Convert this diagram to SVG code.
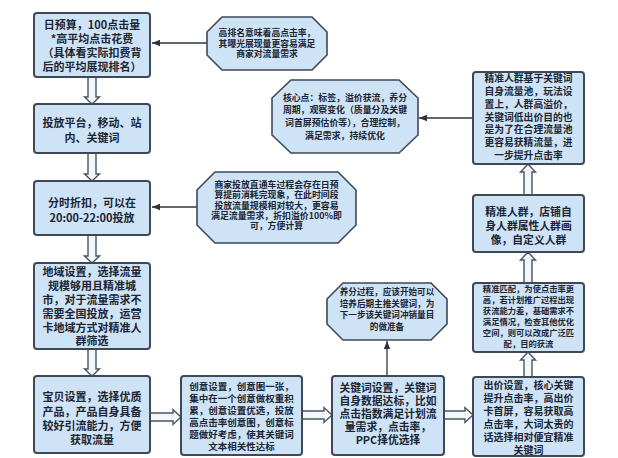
<svg xmlns="http://www.w3.org/2000/svg" width="618" height="458" viewBox="0 0 618 458">
<defs>
<marker id="ah" viewBox="0 0 10 10" refX="10" refY="5" markerWidth="8" markerHeight="8" markerUnits="userSpaceOnUse" orient="auto">
<path d="M0,1 L10,5 L0,9 Z" fill="#2b3440"/>
</marker>
<style>
.box{fill:#cfe3f6;stroke:#3e4856;stroke-width:2}
.oct{fill:#cfe3f6;stroke:#3e4856;stroke-width:1.6}
text{font-family:"Noto Sans CJK SC","Liberation Sans",sans-serif;fill:#1c2633;text-anchor:middle;font-weight:bold}
.ha{fill:#f4f7fa;stroke:#4a5462;stroke-width:1.4}
.ln{fill:none;stroke:#2b3440;stroke-width:1.3;marker-end:url(#ah)}
</style>
</defs>
<rect width="618" height="458" fill="#ffffff"/>

<g id="connectors">
<path class="ha" d="M88,77 V97 H84.5 L92,104 L99.5,97 H96 V77 Z"/>
<path class="ha" d="M88,153 V174 H84.5 L92,181 L99.5,174 H96 V153 Z"/>
<path class="ha" d="M88,235 V256 H84.5 L92,263 L99.5,256 H96 V235 Z"/>
<path class="ha" d="M88,349 V369 H84.5 L92,376 L99.5,369 H96 V349 Z"/>
<path class="ha" d="M150,413 H173 V409.5 L181,417 L173,424.5 V421 H150 Z"/>
<path class="ha" d="M302,411 H324 V407.5 L332,415 L324,422.5 V419 H302 Z"/>
<path class="ha" d="M444,411 H465 V407.5 L473,415 L465,422.5 V419 H444 Z"/>
<path class="ha" d="M524,377 V360 H520.5 L528,352 L535.5,360 H532 V377 Z"/>
<path class="ha" d="M524,283 V260 H520.5 L528,252 L535.5,260 H532 V283 Z"/>
<path class="ha" d="M524,195 V172 H520.5 L528,164 L535.5,172 H532 V195 Z"/>
<path class="ln" d="M207,43 H152"/>
<path class="ln" d="M197,207 H152"/>
<path class="ln" d="M387,376 V341"/>
<path class="ln" d="M473,118 H419"/>
</g>

<g id="n1">
<rect class="box" x="34" y="13" width="116" height="64" rx="3"/>
<text font-size="11"><tspan x="92" y="29">日预算，100点击量</tspan><tspan x="92" y="43">*高平均点击花费</tspan><tspan x="92" y="57">（具体看实际扣费背</tspan><tspan x="92" y="71">后的平均展现排名）</tspan></text>
</g>
<g id="o1">
<polygon class="oct" points="222,17 312,17 327,32 327,55 312,70 222,70 207,55 207,32"/>
<text font-size="8.8"><tspan x="267" y="36">高排名意味着高点击率，</tspan><tspan x="267" y="46.5">其曝光展现量更容易满足</tspan><tspan x="267" y="57">商家对流量需求</tspan></text>
</g>
<g id="n2">
<rect class="box" x="34" y="104" width="116" height="49" rx="3"/>
<text font-size="11"><tspan x="92" y="127">投放平台，移动、站</tspan><tspan x="92" y="142">内、关键词</tspan></text>
</g>
<g id="n3">
<rect class="box" x="34" y="181" width="116" height="54" rx="3"/>
<text font-size="11"><tspan x="92" y="207">分时折扣，可以在</tspan><tspan x="92" y="221.5">20:00-22:00投放</tspan></text>
</g>
<g id="o2">
<polygon class="oct" points="215,172 338,172 356,190 356,225 338,243 215,243 197,225 197,190"/>
<text font-size="8.9"><tspan x="276.5" y="188">商家投放直通车过程会存在日预</tspan><tspan x="276.5" y="198.3">算提前消耗完现象，在此时间段</tspan><tspan x="276.5" y="208.6">投放流量规模相对较大，更容易</tspan><tspan x="276.5" y="218.9">满足流量需求，折扣溢价100%即</tspan><tspan x="276.5" y="229.2">可，方便计算</tspan></text>
</g>
<g id="n4">
<rect class="box" x="34" y="263" width="116" height="86" rx="3"/>
<text font-size="11"><tspan x="92" y="276">地域设置，选择流量</tspan><tspan x="92" y="290">规模够用且精准城</tspan><tspan x="92" y="304">市，对于流量需求不</tspan><tspan x="92" y="318">需要全国投放，运营</tspan><tspan x="92" y="331.5">卡地域方式对精准人</tspan><tspan x="92" y="345">群筛选</tspan></text>
</g>
<g id="n5">
<rect class="box" x="34" y="376" width="116" height="77" rx="3"/>
<text font-size="11"><tspan x="92" y="401">宝贝设置，选择优质</tspan><tspan x="92" y="415.5">产品，产品自身具备</tspan><tspan x="92" y="429.5">较好引流能力，方便</tspan><tspan x="92" y="444">获取流量</tspan></text>
</g>
<g id="n6">
<rect class="box" x="181" y="376" width="121" height="79" rx="3"/>
<text font-size="9.5"><tspan x="241.5" y="389.5">创意设置，创意图一张，</tspan><tspan x="241.5" y="401.5">集中在一个创意做权重积</tspan><tspan x="241.5" y="413.5">累，创意设置优选，投放</tspan><tspan x="241.5" y="425.5">高点击率创意图，创意标</tspan><tspan x="241.5" y="437.5">题做好考虑，使其关键词</tspan><tspan x="241.5" y="449.5">文本相关性达标</tspan></text>
</g>
<g id="n7">
<rect class="box" x="332" y="376" width="112" height="79" rx="3"/>
<text font-size="10.8"><tspan x="388" y="392">关键词设置，关键词</tspan><tspan x="388" y="405">自身数据达标，比如</tspan><tspan x="388" y="418">点击指数满足计划流</tspan><tspan x="388" y="431">量需求，点击率，</tspan><tspan x="388" y="444">PPC择优选择</tspan></text>
</g>
<g id="o3">
<polygon class="oct" points="343,283 431,283 447,299 447,324 431,340 343,340 327,324 327,299"/>
<text font-size="8.6"><tspan x="387" y="295">养分过程，应该开始可以</tspan><tspan x="387" y="306.5">培养后期主推关键词，为</tspan><tspan x="387" y="318">下一步该关键词冲销量目</tspan><tspan x="387" y="329.5">的做准备</tspan></text>
</g>
<g id="n8">
<rect class="box" x="473" y="377" width="111" height="79" rx="3"/>
<text font-size="10"><tspan x="528.5" y="389">出价设置，核心关键</tspan><tspan x="528.5" y="402">提升点击率，高出价</tspan><tspan x="528.5" y="415">卡首屏，容易获取高</tspan><tspan x="528.5" y="428">点击率，大词太贵的</tspan><tspan x="528.5" y="441">话选择相对便宜精准</tspan><tspan x="528.5" y="453.5">关键词</tspan></text>
</g>
<g id="n9">
<rect class="box" x="473" y="283" width="111" height="69" rx="3"/>
<text font-size="8.3"><tspan x="528.5" y="292">精准匹配，为使点击率更</tspan><tspan x="528.5" y="303">高，若计划推广过程出现</tspan><tspan x="528.5" y="314">获流能力差，基础需求不</tspan><tspan x="528.5" y="325">满足情况，检查其他优化</tspan><tspan x="528.5" y="336">空间，则可以改成广泛匹</tspan><tspan x="528.5" y="347">配，目的获流</tspan></text>
</g>
<g id="n10">
<rect class="box" x="473" y="195" width="111" height="57" rx="3"/>
<text font-size="10.8"><tspan x="528.5" y="216">精准人群，店铺自</tspan><tspan x="528.5" y="230">身人群属性人群画</tspan><tspan x="528.5" y="244">像，自定义人群</tspan></text>
</g>
<g id="n11">
<rect class="box" x="473" y="72" width="111" height="92" rx="3"/>
<text font-size="9.8"><tspan x="528.5" y="82">精准人群基于关键词</tspan><tspan x="528.5" y="95">自身流量池，玩法设</tspan><tspan x="528.5" y="108">置上，人群高溢价，</tspan><tspan x="528.5" y="120.5">关键词低出价目的也</tspan><tspan x="528.5" y="133">是为了在合理流量池</tspan><tspan x="528.5" y="146">更容易获精流量，进</tspan><tspan x="528.5" y="159">一步提升点击率</tspan></text>
</g>
<g id="o4">
<polygon class="oct" points="291,80 399,80 418,98 418,135 399,153 291,153 272,135 272,98"/>
<text font-size="8.9"><tspan x="345" y="100.5">核心点：标签，溢价获流，养分</tspan><tspan x="345" y="113">周期，观察变化（质量分及关键</tspan><tspan x="345" y="125.5">词首屏预估价等），合理控制，</tspan><tspan x="345" y="138.5">满足需求，持续优化</tspan></text>
</g>
</svg>
